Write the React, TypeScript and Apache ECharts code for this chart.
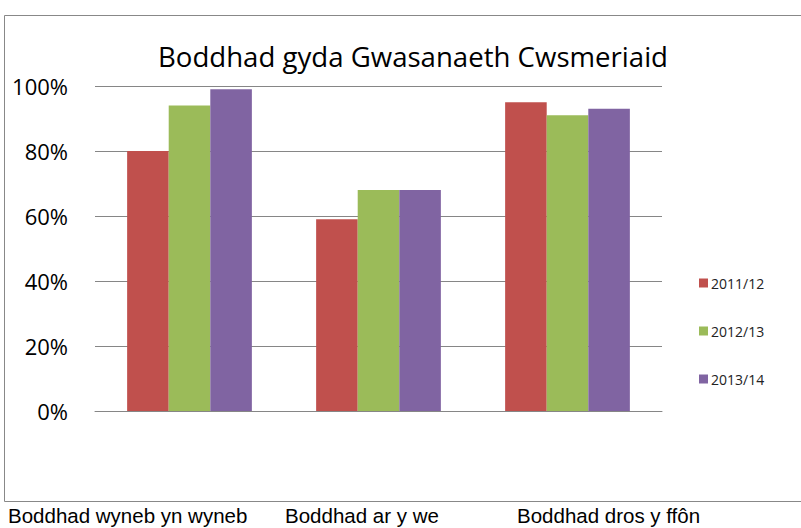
import React, { useEffect, useRef } from "react";
import * as echarts from "echarts";

const categories = ["Boddhad wyneb yn wyneb", "Boddhad ar y we", "Boddhad dros y ffôn"];
const seriesNames = ["2011/12", "2012/13", "2013/14"];
const values2011 = [80, 59, 95];
const values2012 = [94, 68, 91];
const values2013 = [99, 68, 93];
const colors = ["#C0504D", "#9BBB59", "#8064A2"];
const yTicks = [0, 20, 40, 60, 80, 100];
const titleText = "Boddhad gyda Gwasanaeth Cwsmeriaid";

const catLabelX = [8, 285, 517];

export default function App() {
  const ref = useRef<HTMLDivElement>(null);
  useEffect(() => {
    const chart = echarts.init(ref.current!, undefined, { renderer: "svg" });
    const seriesData = [values2011, values2012, values2013];
    chart.setOption({
      animation: false,
      backgroundColor: "#ffffff",
      title: {
        text: titleText,
        left: 408,
        top: 37,
        textAlign: "center",
        textStyle: { fontFamily: "Open Sans", fontSize: 27.6, fontWeight: "normal", color: "#000" },
      },
      legend: {
        orient: "vertical",
        left: 694,
        top: 271,
        itemWidth: 9,
        itemHeight: 9,
        itemGap: 34,
        icon: "rect",
        data: seriesNames,
        textStyle: { fontFamily: "Open Sans", fontSize: 14, color: "#222", padding: [0, 0, 0, -2] },
      },
      grid: { left: 95, right: 139, top: 86, height: 325, containLabel: false },
      xAxis: {
        type: "category",
        data: categories,
        axisTick: { show: false },
        axisLabel: { show: false },
        axisLine: { lineStyle: { color: "#868686", width: 1 } },
      },
      yAxis: {
        type: "value",
        min: 0,
        max: 100,
        interval: 20,
        axisLine: { show: false },
        axisTick: { show: false },
        splitLine: { lineStyle: { color: "#868686", width: 1 } },
        axisLabel: {
          formatter: (v: number) => (yTicks.includes(v) ? v + "%" : ""),
          fontFamily: "Open Sans",
          fontSize: 22,
          color: "#000",
          margin: 27,
        },
      },
      series: seriesNames.map((name, i) => ({
        name,
        type: "bar",
        data: seriesData[i],
        barGap: "0%",
        barCategoryGap: "34%",
        itemStyle: { color: colors[i] },
      })),
      graphic: [
        {
          type: "rect",
          shape: { x: 4.5, y: 15.5, width: 820, height: 486 },
          style: { fill: "none", stroke: "#888", lineWidth: 1 },
          silent: true,
        },
        ...categories.map((c, i) => ({
          type: "text",
          left: catLabelX[i],
          top: 505,
          style: { text: c, fontFamily: "Liberation Sans", fontSize: 20.5, fill: "#000" },
        })),
      ],
    });
    return () => chart.dispose();
  }, []);
  return <div ref={ref} style={{ position: "fixed", left: 0, top: 0, width: 801, height: 528 }} />;
}
